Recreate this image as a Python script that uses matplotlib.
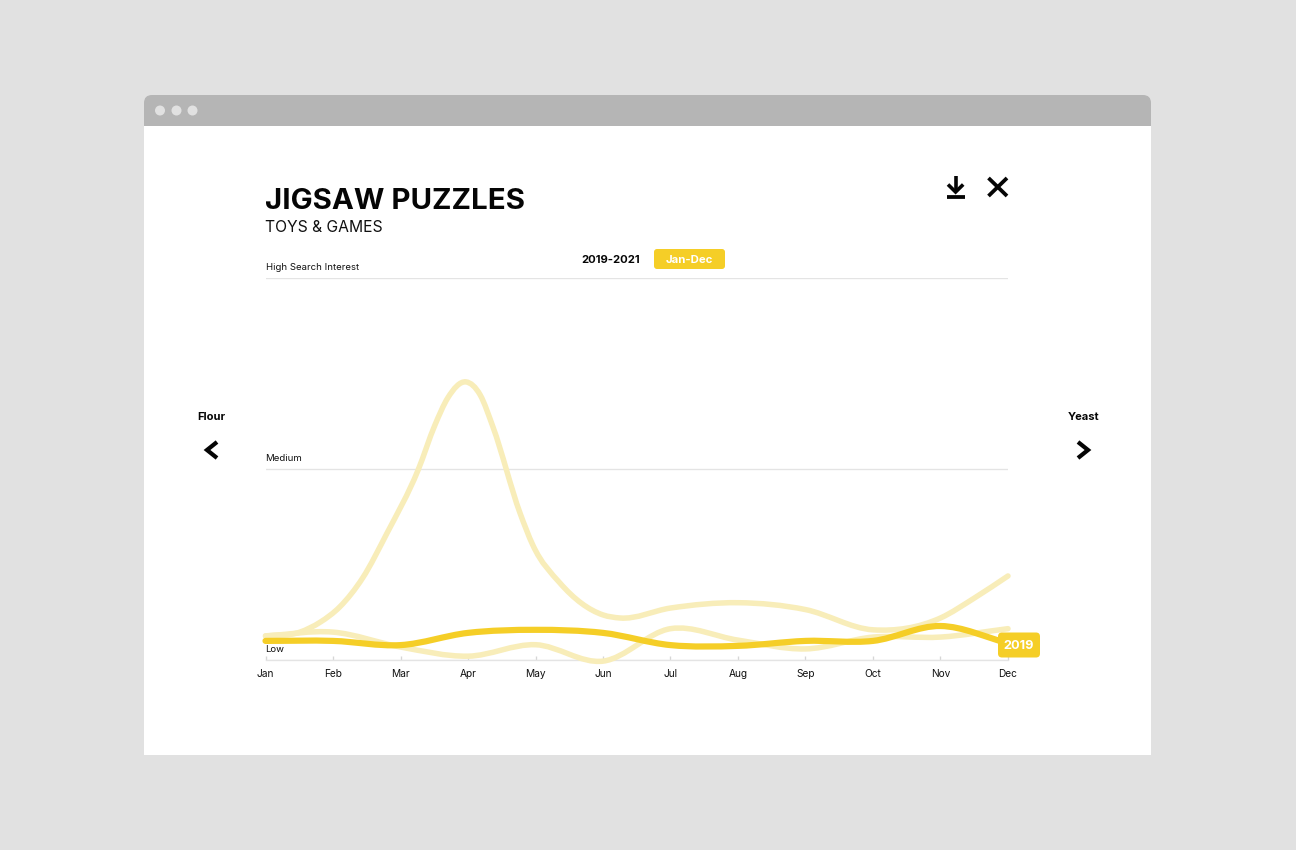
import numpy as np
import matplotlib
matplotlib.use("Agg")
import matplotlib.pyplot as plt
from matplotlib.patches import FancyBboxPatch, Rectangle, Circle, PathPatch
from matplotlib.path import Path

plt.rcParams['font.family'] = ['Inter', 'DejaVu Sans']

W, H = 1296, 850
months = ['Jan', 'Feb', 'Mar', 'Apr', 'May', 'Jun', 'Jul', 'Aug', 'Sep', 'Oct', 'Nov', 'Dec']
level_ticks = [0, 50, 100]
level_names = ['Low', 'Medium', 'High Search Interest']

# values, 0 = low, 100 = high
x_2020 = [0, 0.51, 0.81, 1.1, 1.44, 1.8, 2.26, 2.51, 2.7, 2.97, 3.18, 3.37, 3.77, 3.96, 4.36, 5, 5.25, 6, 7, 8, 9, 10, 10.5, 11]
y_2020 = [6.3, 7.3, 9.9, 13.9, 21.5, 33.2, 49.7, 61.5, 68.6, 72.8, 69.4, 61, 38.5, 30.1, 20.2, 11.8, 11, 13.6, 15, 13.2, 7.9, 11, 16.2, 22]

x_2021 = [0, 1, 2, 3, 4, 5, 6, 7, 8, 9, 10, 11]
y_2021 = [6.3, 7.3, 3.4, 1, 4, -0.3, 8.2, 5.2, 2.9, 6, 6, 8.2]

x_2019 = [0, 1, 2, 3, 4, 5, 6, 7, 8, 9, 10, 11]
y_2019 = [5, 5, 3.9, 7.1, 7.9, 7.1, 3.9, 3.7, 5, 5, 8.9, 4.4]

PALE = '#f8edb9'
YELLOW = '#f5ce27'
GRID = '#e4e4e4'


def px(v):
    return v * 72 / 100


def smooth_path(xs, ys):
    # catmull-rom through the read points, as bezier segments
    xs, ys = np.array(xs, float), np.array(ys, float)
    dy = np.gradient(ys, xs)
    verts = [(xs[0], ys[0])]
    codes = [Path.MOVETO]
    for i in range(len(xs) - 1):
        h = xs[i + 1] - xs[i]
        verts += [(xs[i] + h / 3, ys[i] + dy[i] * h / 3),
                  (xs[i + 1] - h / 3, ys[i + 1] - dy[i + 1] * h / 3),
                  (xs[i + 1], ys[i + 1])]
        codes += [Path.CURVE4] * 3
    return Path(verts, codes)


fig = plt.figure(figsize=(W / 100, H / 100), dpi=100, facecolor='#e1e1e1')

# page furniture, in pixel coordinates
bg = fig.add_axes([0, 0, 1, 1])
bg.set_xlim(0, W)
bg.set_ylim(H, 0)
bg.axis('off')
bg.add_patch(FancyBboxPatch((144, 95), 1007, 60, boxstyle='round,pad=0,rounding_size=8', fc='#b5b5b5', ec='none'))
bg.add_patch(Rectangle((144, 126), 1007, 629, fc='white', ec='none'))
for cx in [160, 176.5, 192.5]:
    bg.add_patch(Circle((cx, 110.5), 5, fc='#e1e1e1', ec='none'))

bg.text(265, 201, 'JIGSAW PUZZLES', fontsize=21.2, fontweight='bold', color='#050505', va='center', ha='left')
bg.text(265, 227, 'TOYS & GAMES', fontsize=11.3, color='#111111', va='center', ha='left')
bg.text(611, 260, '2019-2021', fontsize=8.1, fontweight='bold', color='#050505', va='center', ha='center')
bg.add_patch(FancyBboxPatch((654, 249), 71, 20, boxstyle='round,pad=0,rounding_size=3', fc=YELLOW, ec='none'))
bg.text(689.5, 260, 'Jan-Dec', fontsize=8.2, fontweight='bold', color='white', va='center', ha='center')

# download and close icons
bg.plot([955.6, 955.6], [176, 192], color='#050505', lw=px(3.6), solid_capstyle='butt')
bg.plot([948, 955.6, 963.2], [184.5, 192, 184.5], color='#050505', lw=px(3.6), solid_capstyle='butt', solid_joinstyle='miter')
bg.plot([946.7, 964.7], [196.8, 196.8], color='#050505', lw=px(3.8), solid_capstyle='butt')
bg.plot([988.5, 1007], [178, 196], color='#050505', lw=px(3.8), solid_capstyle='butt')
bg.plot([988.5, 1007], [196, 178], color='#050505', lw=px(3.8), solid_capstyle='butt')

# side navigation
bg.text(211, 416.5, 'Flour', fontsize=8, fontweight='bold', color='#050505', va='center', ha='center')
bg.text(1083.5, 416.5, 'Yeast', fontsize=8, fontweight='bold', color='#050505', va='center', ha='center')
bg.plot([217, 207, 217], [442, 450, 458], color='#050505', lw=px(4.2), solid_capstyle='butt', solid_joinstyle='miter')
bg.plot([1078, 1088, 1078], [442, 450, 458], color='#050505', lw=px(4.2), solid_capstyle='butt', solid_joinstyle='miter')

# chart
left, right, top, bottom = 265.5, 1008, 278, 660
ax = fig.add_axes([left / W, 1 - bottom / H, (right - left) / W, (bottom - top) / H])
ax.set_xlim(0, 11)
ax.set_ylim(0, 100)
ax.patch.set_alpha(0)
for side in ['top', 'left', 'right']:
    ax.spines[side].set_visible(False)
ax.spines['bottom'].set_color(GRID)
ax.spines['bottom'].set_linewidth(px(1.3))
ax.set_xticks(range(12))
ax.set_xticklabels(months)
ax.tick_params(axis='x', direction='in', length=px(4), width=px(1.3), color='#d6d6d6', labelsize=7.3, labelcolor='#111111', pad=px(9))
ax.set_yticks(level_ticks)
ax.tick_params(axis='y', length=0, labelleft=False)
ax.grid(axis='y', color=GRID, lw=px(1.3))
ax.set_axisbelow(True)

label_pos = {0: 649, 50: 458, 100: 267}
for lvl, name in zip(level_ticks, level_names):
    bg.text(265.5, label_pos[lvl], name, fontsize=6.9, color='#111111', va='center', ha='left')

for xs, ys, col, w, z in [(x_2020, y_2020, PALE, 5.5, 3), (x_2021, y_2021, PALE, 5.5, 3), (x_2019, y_2019, YELLOW, 6.2, 4)]:
    ax.add_patch(PathPatch(smooth_path(xs, ys), fc='none', ec=col, lw=px(w), capstyle='round', clip_on=False, zorder=z))

# end label, on top of the lines
top_ax = fig.add_axes([0, 0, 1, 1])
top_ax.set_xlim(0, W)
top_ax.set_ylim(H, 0)
top_ax.axis('off')
top_ax.add_patch(FancyBboxPatch((998, 632.5), 42, 25, boxstyle='round,pad=0,rounding_size=4', fc=YELLOW, ec='none'))
top_ax.text(1019, 646, '2019', fontsize=9.2, fontweight='bold', color='white', va='center', ha='center')

fig.savefig('out.png', dpi=100, facecolor=fig.get_facecolor())
